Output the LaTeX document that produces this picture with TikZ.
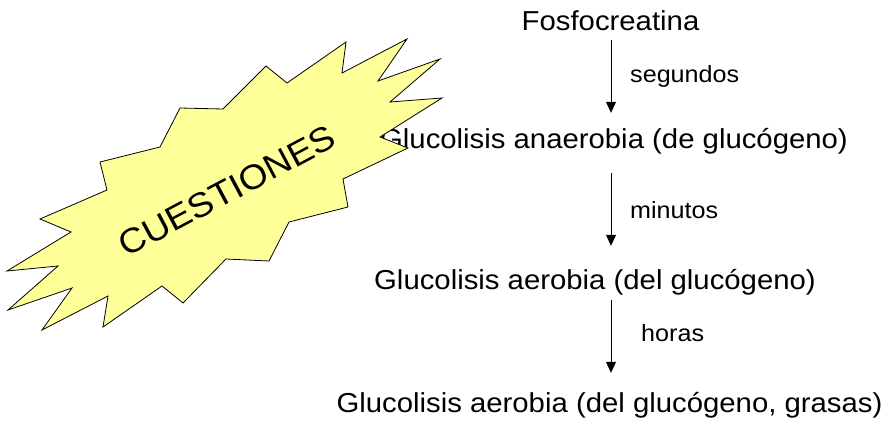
\documentclass[tikz,border=0pt]{standalone}
\usepackage{fontspec}
\setmainfont[FakeStretch=1.07]{Liberation Sans}
\usetikzlibrary{arrows.meta}
\definecolor{staryellow}{RGB}{255,255,153}
\tikzset{
  maintext/.style={font=\fontsize{27.4}{30}\selectfont, inner sep=0pt, text height=20pt, text depth=6pt, anchor=base},
  labeltext/.style={font=\fontsize{23.5}{26}\selectfont, inner sep=0pt, anchor=base west},
  flowarrow/.style={line width=1pt, -{Triangle[width=10pt,length=11pt]}},
  burst/.style={fill=staryellow, draw=black, line width=0.8pt, line join=miter},
}
\begin{document}
\begin{tikzpicture}[x=1pt,y=-1pt]
\useasboundingbox (0,0) rectangle (886,423);
% main texts
\node[maintext] (fos) at (610.5,30) {Fosfocreatina};
\node[maintext] (ana) at (614,148) {Glucolisis anaerobia (de glucógeno)};
\node[maintext] (aer) at (595,289) {Glucolisis aerobia (del glucógeno)};
\node[maintext] (gra) at (609.5,412) {Glucolisis aerobia (del glucógeno, grasas)};
% labels
\node[labeltext] (seg) at (630,82) {segundos};
\node[labeltext] (min) at (630,218) {minutos};
\node[labeltext] (hor) at (641,341) {horas};
% arrows
\coordinate (ax) at (611,0);
\draw[flowarrow, shorten <=4pt, shorten >=15pt] (fos.south -| ax) -- (ana.north -| ax);
\draw[flowarrow, shorten <=19pt, shorten >=23pt] (ana.south -| ax) -- (aer.north -| ax);
\draw[flowarrow, shorten <=5pt, shorten >=19pt] (aer.south -| ax) -- (gra.north -| ax);
% starburst
\draw[burst] (180,108) -- (223,109) -- (266,66) -- (287,83) -- (346,42) -- (342,73)
  -- (407,39) -- (378,81) -- (440,59) -- (390,102) -- (442,98) -- (380,137)
  -- (408,148) -- (343,179) -- (348,207) -- (289,222) -- (269,261) -- (226,259)
  -- (183,303) -- (162,286) -- (103,327) -- (108,296) -- (42,330) -- (72,288)
  -- (8,310) -- (58,266) -- (7,271) -- (71,232) -- (40,219) -- (107,190)
  -- (100,162) -- (160,147) -- cycle;
\node[font=\fontsize{34.5}{36}\selectfont, inner sep=0pt, rotate=28] (cue) at (227,191) {CUESTIONES};
\end{tikzpicture}
\end{document}
